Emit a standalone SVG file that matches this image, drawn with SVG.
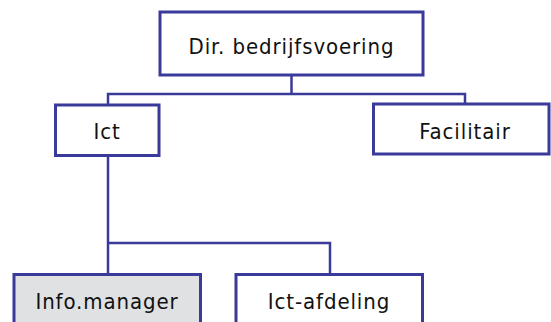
<svg xmlns="http://www.w3.org/2000/svg" width="551" height="322" viewBox="0 0 551 322">
  <style>
    .box { fill: #ffffff; stroke: #3a3a9a; stroke-width: 3; }
    .box.grey { fill: #e0e1e3; }
    .lbl { font-family: "DejaVu Sans Condensed", "DejaVu Sans", sans-serif; font-size: 22px; letter-spacing: 0.9px; fill: #111111; text-anchor: middle; }
    .wire { fill: none; stroke: #3a3a9a; stroke-width: 2.5; }
  </style>
  <rect width="551" height="322" fill="#ffffff"/>

  <!-- connectors -->
  <g id="connectors">
    <path class="wire" d="M291.5 75 V94 M108 104 V94 H465 V104"/>
    <path class="wire" d="M108 156 V274 M108 243 H330 V275"/>
  </g>

  <g id="dir">
    <rect class="box" x="160" y="12" width="263" height="63"/>
    <text class="lbl" x="291.5" y="54">Dir. bedrijfsvoering</text>
  </g>
  <g id="ict">
    <rect class="box" x="55.5" y="105" width="103.5" height="50.5"/>
    <text class="lbl" x="107" y="138.5">Ict</text>
  </g>
  <g id="facilitair">
    <rect class="box" x="373.5" y="104" width="175.5" height="50"/>
    <text class="lbl" x="465" y="138.5">Facilitair</text>
  </g>
  <g id="infomanager">
    <rect class="box grey" x="14" y="274.5" width="186.5" height="60"/>
    <text class="lbl" x="107" y="308.5">Info.manager</text>
  </g>
  <g id="ictafdeling">
    <rect class="box" x="236" y="274.5" width="186.5" height="60"/>
    <text class="lbl" x="329" y="308.5">Ict-afdeling</text>
  </g>
</svg>
